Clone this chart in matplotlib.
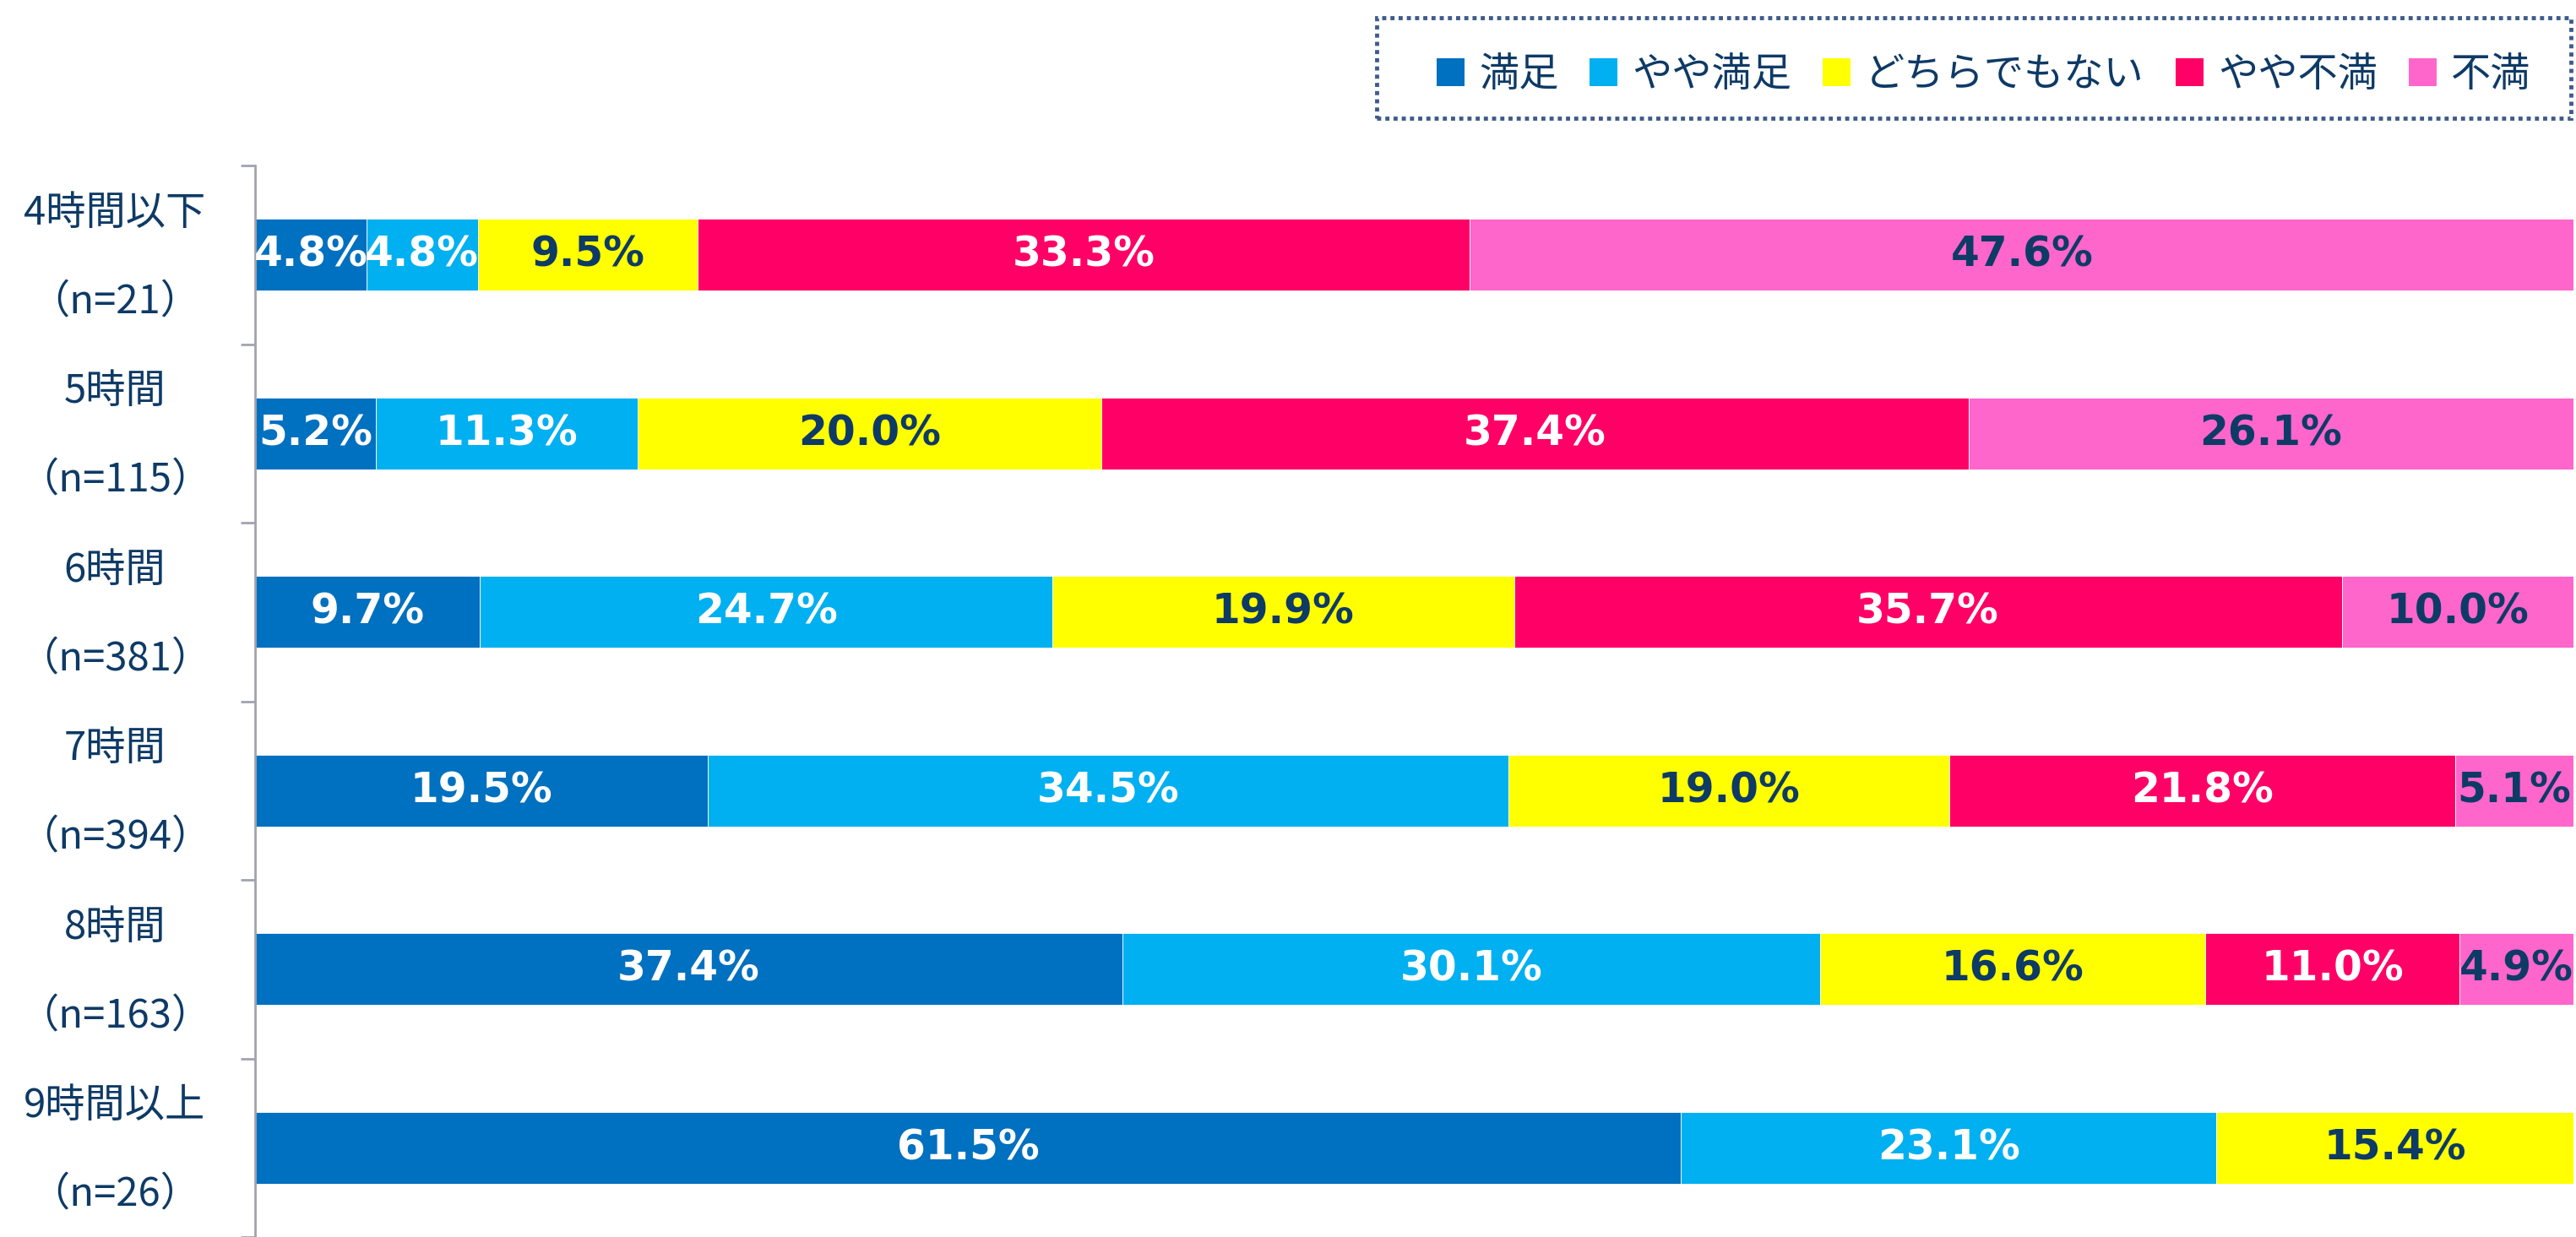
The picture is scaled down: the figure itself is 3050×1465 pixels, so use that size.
import matplotlib
matplotlib.use("Agg")
import matplotlib.pyplot as plt
from matplotlib.patches import Rectangle, Patch
from matplotlib.transforms import ScaledTranslation
import numpy as np

plt.rcParams['font.family'] = ['Noto Sans CJK JP', 'DejaVu Sans']

categories = ["4時間以下\n（n=21）", "5時間\n（n=115）", "6時間\n（n=381）",
              "7時間\n（n=394）", "8時間\n（n=163）", "9時間以上\n（n=26）"]
series_names = ["満足", "やや満足", "どちらでもない", "やや不満", "不満"]
manzoku      = [4.8, 5.2, 9.7, 19.5, 37.4, 61.5]
yaya_manzoku = [4.8, 11.3, 24.7, 34.5, 30.1, 23.1]
dochira      = [9.5, 20.0, 19.9, 19.0, 16.6, 15.4]
yaya_fuman   = [33.3, 37.4, 35.7, 21.8, 11.0, 0.0]
fuman        = [47.6, 26.1, 10.0, 5.1, 4.9, 0.0]

colors = ["#0070C0", "#00B0F0", "#FFFF00", "#FF0066", "#FF66CC"]
text_colors = ["white", "white", "#0E3A66", "white", "#0E3A66"]
navy = "#0E3A66"

W, H = 3050, 1465
DPI = 100
fig = plt.figure(figsize=(W / DPI, H / DPI), dpi=DPI)

ax_left, ax_right, ax_top = 302, 3047, 196
ax = fig.add_axes([ax_left / W, 0, (ax_right - ax_left) / W, (H - ax_top) / H])

data = np.array([manzoku, yaya_manzoku, dochira, yaya_fuman, fuman])
totals = data.sum(axis=0)
share = data / totals * 100

y = np.arange(len(categories))
left = np.zeros(len(categories))
for i, name in enumerate(series_names):
    ax.barh(y, share[i], left=left, height=0.4, color=colors[i],
            edgecolor="white", linewidth=0.6, label=name)
    for j in range(len(categories)):
        v = data[i, j]
        if v > 0:
            ax.text(left[j] + share[i, j] / 2, y[j], f"{v:.1f}%",
                    ha="center", va="center", color=text_colors[i],
                    fontsize=35, fontweight="bold", family="DejaVu Sans")
    left += share[i]

ax.set_xlim(0, 100)
cat_px = 212
ax.set_ylim(-0.5 + (H - ax_top) / cat_px, -0.5)

for s in ["top", "right", "bottom"]:
    ax.spines[s].set_visible(False)
ax.spines["left"].set_color("#A0A4B0")
ax.spines["left"].set_linewidth(2)
ax.set_xticks([])

# category labels (centered left of the axis)
ax.set_yticks(y)
ax.set_yticklabels([""] * len(categories))
ax.tick_params(axis="y", which="major", length=0)
lab_tr = ax.get_yaxis_transform() + ScaledTranslation(0, -0.03, fig.dpi_scale_trans)
for j, lab in enumerate(categories):
    ax.text(-166 / (ax_right - ax_left), y[j], lab, transform=lab_tr,
            ha="center", va="center", multialignment="center",
            fontsize=34, color=navy, linespacing=2.5, clip_on=False)

ax.set_yticks(np.arange(-0.5, len(categories), 1.0), minor=True)
ax.tick_params(axis="y", which="minor", length=12.5, width=2, color="#A0A4B0")

# legend
handles = [Patch(facecolor=c, edgecolor="none") for c in colors]
leg = fig.legend(handles, series_names, loc="center",
                 bbox_to_anchor=(2348.5 / W, 1 - 88.5 / H), frameon=False,
                 ncol=5, fontsize=34, handlelength=0.7, handleheight=0.7,
                 handletextpad=0.36, columnspacing=0.78, borderpad=0,
                 borderaxespad=0)
for t in leg.get_texts():
    t.set_color(navy)

frame = Rectangle((1630 / W, 1 - 140 / H), (3044 - 1630) / W, (140 - 21) / H,
                  transform=fig.transFigure, fill=False, edgecolor="#3E5C8A",
                  linewidth=3.5, linestyle=(0, (1.0, 1.0)))
frame.set_capstyle("butt")
fig.patches.append(frame)

fig.savefig("out.png", dpi=DPI)
